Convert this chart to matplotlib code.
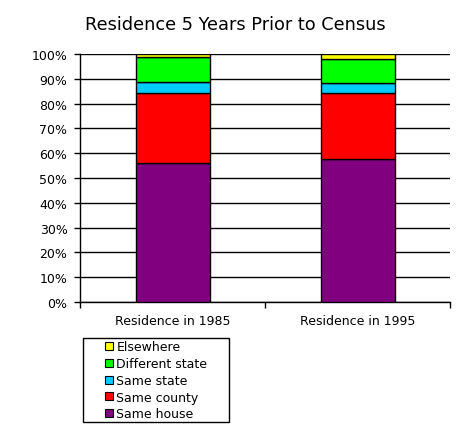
import matplotlib
matplotlib.use("Agg")
import matplotlib.pyplot as plt
from matplotlib.patches import Patch, Rectangle

categories = ["Residence in 1985", "Residence in 1995"]
series_names = ["Same house", "Same county", "Same state", "Different state", "Elsewhere"]
same_house = [56.0, 57.6]
same_county = [28.2, 26.6]
same_state = [4.4, 4.0]
different_state = [10.1, 9.7]
elsewhere = [1.3, 2.1]
colors = ["#800080", "#FF0000", "#00CCFF", "#00FF00", "#FFFF00"]
yticks = [0, 10, 20, 30, 40, 50, 60, 70, 80, 90, 100]
ytick_labels = [f"{v}%" for v in yticks]

plt.rcParams['font.family'] = ['DejaVu Sans']
W, H = 471, 427
fig = plt.figure(figsize=(W/100, H/100), dpi=100)
ax = fig.add_axes([80/W, 1-303/H, 370/W, 248/H])

series = [same_house, same_county, same_state, different_state, elsewhere]
x = list(range(len(categories)))
bottom = [0.0]*len(categories)
for vals, c in zip(series, colors):
    ax.bar(x, vals, width=0.4, bottom=bottom, color=c, edgecolor="black", linewidth=1, zorder=3)
    bottom = [b+v for b, v in zip(bottom, vals)]

ax.set_xlim(-0.5, 1.5)
ax.set_ylim(0, 100)
ax.set_yticks(yticks)
ax.set_yticklabels(ytick_labels, fontsize=9)
ax.yaxis.grid(True, color="black", linewidth=1, zorder=0)
ax.set_axisbelow(True)
ax.set_xticks([-0.5, 0.5, 1.5])
ax.set_xticklabels([])
ax.set_xticks(x, minor=True)
ax.set_xticklabels(categories, minor=True, fontsize=9)
ax.tick_params(axis='x', which='minor', length=0, pad=9)
ax.tick_params(axis='x', which='major', length=4, width=1, direction='out')
ax.tick_params(axis='y', length=4, width=1, direction='out', pad=5)
for s in ["top", "right"]:
    ax.spines[s].set_visible(False)
for s in ["left", "bottom"]:
    ax.spines[s].set_linewidth(1)

fig.text(235/W, 1-25/H, "Residence 5 Years Prior to Census", ha="center", va="center", fontsize=12.8)

handles = [Patch(facecolor=c, edgecolor="black", linewidth=0.8) for c in colors[::-1]]
leg = fig.legend(handles, series_names[::-1], loc="upper left",
                 bbox_to_anchor=(105/W, 1-341.5/H), fontsize=9,
                 frameon=False,
                 handlelength=0.6, handleheight=0.6, handletextpad=0.3,
                 labelspacing=0.3, borderpad=0, borderaxespad=0)
fig.patches.append(Rectangle((83/W, 1-423/H), 146/W, 84/H, transform=fig.transFigure,
                             facecolor="none", edgecolor="black", linewidth=1))

fig.savefig("out.png", dpi=100)
